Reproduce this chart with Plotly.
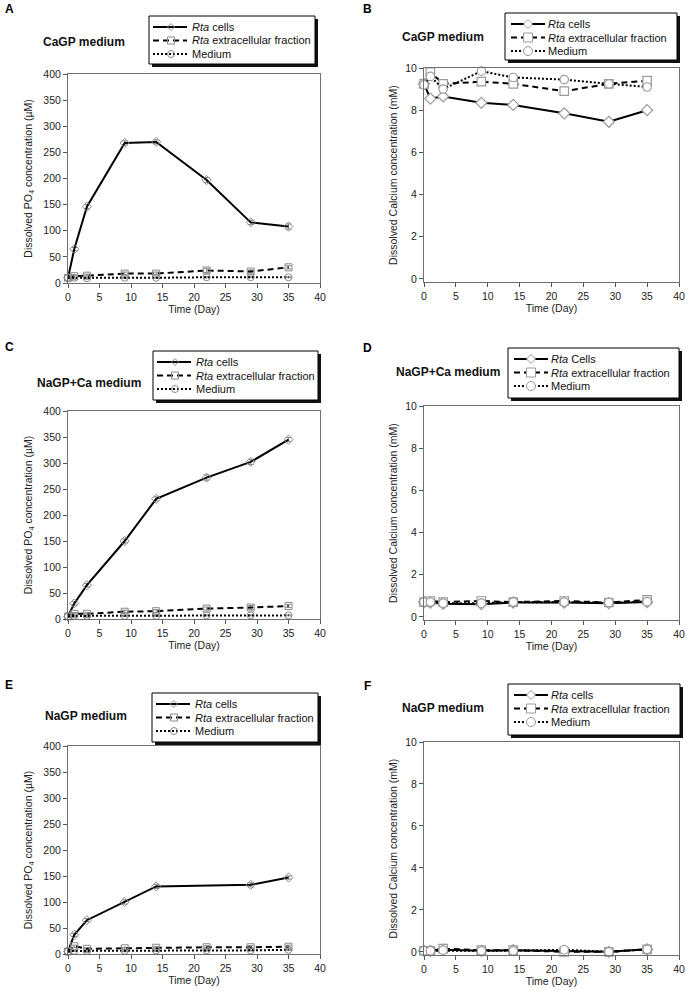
import plotly.graph_objects as go

# time points (days)
days = [0, 1, 3, 9, 14, 22, 29, 35]

# A: CaGP medium, dissolved PO4 (uM)
a_cells = [10, 65, 146, 268, 270, 197, 116, 108]
a_cells_err = [2, 3, 4, 4, 4, 5, 4, 5]
a_extra = [10, 13, 14, 18, 18, 24, 22, 30]
a_extra_err = [2, 2, 3, 3, 3, 4, 3, 3]
a_medium = [10, 10, 9, 10, 10, 11, 11, 11]
a_medium_err = [1, 1, 1, 1, 1, 1, 1, 1]

# B: CaGP medium, dissolved calcium (mM)
b_cells = [9.25, 8.55, 8.65, 8.35, 8.25, 7.85, 7.45, 8.0]
b_extra = [9.25, 9.8, 9.25, 9.35, 9.25, 8.9, 9.25, 9.4]
b_medium = [9.2, 9.6, 9.0, 9.85, 9.55, 9.45, 9.25, 9.1]

# C: NaGP+Ca medium, dissolved PO4 (uM)
c_cells = [5, 30, 65, 150, 231, 272, 302, 345]
c_cells_err = [2, 3, 3, 4, 4, 5, 5, 4]
c_extra = [5, 10, 10, 14, 15, 20, 22, 25]
c_extra_err = [1, 2, 2, 3, 3, 3, 4, 3]
c_medium = [5, 6, 6, 6, 6, 7, 7, 7]
c_medium_err = [1, 1, 1, 1, 1, 1, 1, 1]

# D: NaGP+Ca medium, dissolved calcium (mM)
d_cells = [0.7, 0.68, 0.62, 0.6, 0.68, 0.68, 0.65, 0.7]
d_extra = [0.7, 0.75, 0.7, 0.75, 0.7, 0.75, 0.68, 0.8]
d_medium = [0.7, 0.7, 0.65, 0.65, 0.7, 0.7, 0.68, 0.72]

# E: NaGP medium, dissolved PO4 (uM)
e_cells = [5, 37, 65, 100, 130, None, 133, 147]
e_cells_err = [2, 3, 3, 4, 4, None, 4, 3]
e_extra = [5, 15, 10, 11, 12, 13, 13, 14]
e_extra_err = [1, 2, 2, 2, 2, 3, 3, 3]
e_medium = [5, 6, 6, 6, 7, 7, 7, 8]
e_medium_err = [1, 1, 1, 1, 1, 1, 1, 1]

# F: NaGP medium, dissolved calcium (mM)
f_cells = [0.05, 0.05, 0.1, 0.05, 0.08, 0.05, 0.0, 0.12]
f_extra = [0.05, 0.05, 0.15, 0.08, 0.08, 0.0, 0.0, 0.12]
f_medium = [0.05, 0.05, 0.08, 0.05, 0.05, 0.1, 0.0, 0.12]

series_names = ["<i>Rta</i> cells", "<i>Rta</i> extracellular fraction", "Medium"]
series_names_d = ["<i>Rta</i> Cells", "<i>Rta</i> extracellular fraction", "Medium"]
panel_letters = ["A", "B", "C", "D", "E", "F"]
panel_titles = ["CaGP medium", "CaGP medium", "NaGP+Ca medium",
                "NaGP+Ca medium", "NaGP medium", "NaGP medium"]

W, H = 689, 996
FONT = "Liberation Sans, Arial, sans-serif"


def px(x):
    return x / W


def py(y):
    return 1 - y / H


# plot boxes in pixels: (left, top, right, bottom)
boxes = [(68, 74, 320, 283), (424, 68, 679, 282),
         (68, 411, 320, 619), (424, 406, 679, 620),
         (68, 746, 320, 954), (424, 742, 679, 955)]
# legend boxes in pixels: (left, top, width, height)
legend_boxes = [(149, 16, 166, 48), (505, 13, 172, 47), (153, 351, 165, 49),
                (508, 348, 171, 50), (152, 693, 166, 49), (508, 684, 172, 51)]
letter_pos = [(9, 9), (367, 9), (9, 347), (367, 348), (9, 685), (367, 686)]
title_pos = [(41, 42), (400, 37), (35, 383), (394, 372), (43, 716), (400, 708)]

styles = [("solid", "diamond"), ("6px,4px", "square"), ("2px,2px", "circle")]
GRAY_PO4 = "#8a8a8a"
GRAY_CA = "#9a9a9a"

fig = go.Figure()

panels = [
    (a_cells, a_extra, a_medium, (a_cells_err, a_extra_err, a_medium_err)),
    (b_cells, b_extra, b_medium, None),
    (c_cells, c_extra, c_medium, (c_cells_err, c_extra_err, c_medium_err)),
    (d_cells, d_extra, d_medium, None),
    (e_cells, e_extra, e_medium, (e_cells_err, e_extra_err, e_medium_err)),
    (f_cells, f_extra, f_medium, None),
]

for p, (s1, s2, s3, errs) in enumerate(panels):
    k = p + 1
    xa = "x" if k == 1 else f"x{k}"
    ya = "y" if k == 1 else f"y{k}"
    is_po4 = p % 2 == 0
    for j, vals in enumerate([s1, s2, s3]):
        dash, sym = styles[j]
        if is_po4:
            marker = dict(symbol=sym + "-open", size=7, color=GRAY_PO4,
                          line=dict(width=1))
            err = dict(type="data", array=errs[j], color=GRAY_PO4,
                       thickness=1, width=3)
        else:
            marker = dict(symbol=sym, size=8.5, color="white",
                          line=dict(color=GRAY_CA, width=1.2))
            err = None
        fig.add_trace(go.Scatter(
            x=days, y=vals, mode="lines+markers", showlegend=False,
            line=dict(color="black", width=2, dash=dash),
            marker=marker, error_y=err, connectgaps=True,
            xaxis=xa, yaxis=ya, cliponaxis=False,
        ))

layout = dict(
    width=W, height=H, autosize=False,
    margin=dict(l=0, r=0, t=0, b=0),
    paper_bgcolor="white", plot_bgcolor="white",
    font=dict(family=FONT, size=11, color="#222"),
    showlegend=False,
    shapes=[], annotations=[],
)


def marker_shape(sym, cx, cy, r, color, fill):
    base = dict(xref="paper", yref="paper", xsizemode="pixel", ysizemode="pixel",
                xanchor=px(cx), yanchor=py(cy),
                line=dict(color=color, width=1), fillcolor=fill)
    if sym == "diamond":
        return dict(base, type="path",
                    path=f"M0,{-r} L{r},0 L0,{r} L{-r},0 Z")
    if sym == "square":
        return dict(base, type="rect", x0=-r, x1=r, y0=-r, y1=r)
    return dict(base, type="circle", x0=-r, x1=r, y0=-r, y1=r)


for p, (l, t, r, b) in enumerate(boxes):
    k = p + 1
    xkey = "xaxis" if k == 1 else f"xaxis{k}"
    ykey = "yaxis" if k == 1 else f"yaxis{k}"
    is_po4 = p % 2 == 0
    axis_common = dict(showline=True, linecolor="#707070", linewidth=1, mirror=True,
                       ticks="outside", ticklen=4, tickcolor="#555",
                       showgrid=False, zeroline=False, automargin=False,
                       tickfont=dict(size=10.5, color="#222"))
    layout[xkey] = dict(axis_common, domain=[px(l), px(r)], range=[0, 40], dtick=5,
                        anchor="y" if k == 1 else f"y{k}",
                        title=dict(text="Time (Day)", font=dict(size=10.5), standoff=4))
    if is_po4:
        yd = dict(range=[0, 400], dtick=50,
                  title=dict(text="Dissolved PO<sub>4</sub> concentration (µM)",
                             font=dict(size=10.5), standoff=8))
    else:
        yd = dict(range=[-0.15, 10], tickvals=[0, 2, 4, 6, 8, 10],
                  title=dict(text="Dissolved Calcium concentration (mM)",
                             font=dict(size=10.5), standoff=5))
    layout[ykey] = dict(axis_common, domain=[py(b), py(t)],
                        anchor="x" if k == 1 else f"x{k}", **yd)

    # hand-made legend box with drop shadow
    lx, ly, lw, lh = legend_boxes[p]
    layout["shapes"].append(dict(type="rect", xref="paper", yref="paper",
                                 x0=px(lx + 3), x1=px(lx + lw + 3),
                                 y0=py(ly + lh + 3), y1=py(ly + 3),
                                 line=dict(width=0), fillcolor="#111"))
    layout["shapes"].append(dict(type="rect", xref="paper", yref="paper",
                                 x0=px(lx), x1=px(lx + lw), y0=py(ly + lh), y1=py(ly),
                                 line=dict(color="black", width=1), fillcolor="white"))
    names = series_names_d if p == 3 else series_names
    for j in range(3):
        dash, sym = styles[j]
        ry = ly + 11 + j * 13.5
        if is_po4:
            x0, x1, mx = lx + 4, lx + 38, lx + 22
        else:
            x0, x1, mx = lx + 6, lx + 40, lx + 23
        layout["shapes"].append(dict(type="line", xref="paper", yref="paper",
                                     x0=px(x0), x1=px(x1), y0=py(ry), y1=py(ry),
                                     line=dict(color="black", width=2, dash=dash)))
        if is_po4:
            layout["shapes"].append(marker_shape(sym, mx, ry, 3.5, GRAY_PO4, "rgba(0,0,0,0)"))
        else:
            layout["shapes"].append(marker_shape(sym, mx, ry, 4.5, GRAY_CA, "white"))
        layout["annotations"].append(dict(
            text=names[j], x=px(lx + 41), y=py(ry), xref="paper", yref="paper",
            showarrow=False, xanchor="left", yanchor="middle",
            font=dict(size=11, color="#111")))

    # letter and panel title
    cx, cy = letter_pos[p]
    layout["annotations"].append(dict(
        text=f"<b>{panel_letters[p]}</b>", x=px(cx), y=py(cy), xref="paper", yref="paper",
        showarrow=False, xanchor="center", yanchor="middle", font=dict(size=12, color="black")))
    tx, ty = title_pos[p]
    layout["annotations"].append(dict(
        text=f"<b>{panel_titles[p]}</b>", x=px(tx), y=py(ty), xref="paper", yref="paper",
        showarrow=False, xanchor="left", yanchor="middle", font=dict(size=12, color="#111")))

fig.update_layout(**layout)
fig.write_html("out.html", config={"displayModeBar": False},
               post_script="document.body.style.margin='0';document.body.style.overflow='hidden';")
